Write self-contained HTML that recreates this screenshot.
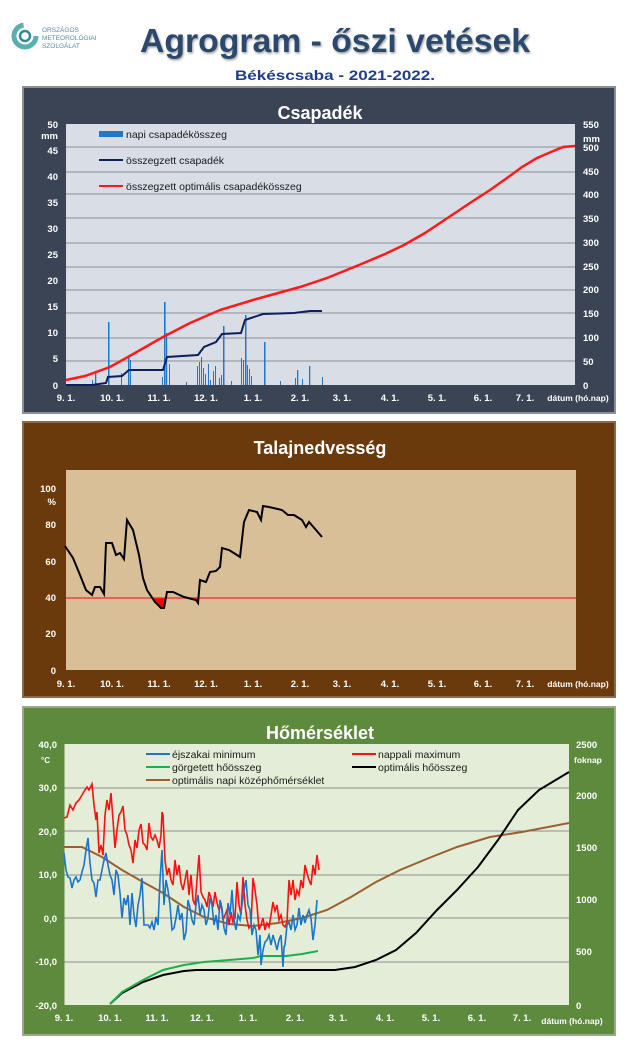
<!DOCTYPE html>
<html><head><meta charset="utf-8"><style>
html,body{margin:0;padding:0;background:#fff;width:640px;height:1057px;overflow:hidden}
svg{display:block}
text{font-family:"Liberation Sans",sans-serif}
.ax{fill:#fff;font-size:9.5px;font-weight:bold}
.lg{fill:#1a1a1a;font-size:10.5px}
.tt{fill:#fff;font-size:18px;font-weight:bold}
</style></head><body>
<svg width="640" height="1057" viewBox="0 0 640 1057" xmlns="http://www.w3.org/2000/svg">
<defs><filter id="sh"><feDropShadow dx="1" dy="1.5" stdDeviation="1" flood-color="#777" flood-opacity="0.7"/></filter></defs>
<!-- header -->
<circle cx="25" cy="36" r="11" fill="none" stroke="#5ab0b0" stroke-width="5" stroke-dasharray="50 20"/>
<circle cx="25" cy="36" r="5" fill="none" stroke="#2e8a9a" stroke-width="2.5"/>
<text x="42" y="32" font-size="6.5" fill="#5a8aa0">ORSZÁGOS</text>
<text x="42" y="40" font-size="6.5" fill="#5a8aa0">METEOROLÓGIAI</text>
<text x="42" y="48" font-size="6.5" fill="#5a8aa0">SZOLGÁLAT</text>
<text x="335" y="52" text-anchor="middle" font-size="33" font-weight="bold" fill="#2a4a6c" filter="url(#sh)" textLength="390" lengthAdjust="spacingAndGlyphs">Agrogram - őszi vetések</text>
<text x="335" y="80" text-anchor="middle" font-size="14" font-weight="bold" fill="#1f3e8a" textLength="200" lengthAdjust="spacingAndGlyphs">Békéscsaba - 2021-2022.</text>

<!-- PANEL 1 -->
<rect x="23" y="87" width="592" height="326" fill="#3b4454" stroke="#8a8f98" stroke-width="2"/>
<text x="320" y="119" text-anchor="middle" class="tt">Csapadék</text>
<rect x="66" y="124" width="509" height="261" fill="#d8dde6"/>
<g stroke="#8c8f94" stroke-width="1">
<line x1="66" x2="575" y1="147" y2="147"/><line x1="66" x2="575" y1="172" y2="172"/><line x1="66" x2="575" y1="194" y2="194"/><line x1="66" x2="575" y1="218" y2="218"/><line x1="66" x2="575" y1="243" y2="243"/><line x1="66" x2="575" y1="267" y2="267"/><line x1="66" x2="575" y1="290" y2="290"/><line x1="66" x2="575" y1="313" y2="313"/><line x1="66" x2="575" y1="338" y2="338"/><line x1="66" x2="575" y1="361" y2="361"/>
</g>
<g class="ax" text-anchor="end">
<text x="58" y="128">50</text><text x="58" y="154">45</text><text x="58" y="180">40</text><text x="58" y="206">35</text><text x="58" y="232">30</text><text x="58" y="258">25</text><text x="58" y="284">20</text><text x="58" y="310">15</text><text x="58" y="336">10</text><text x="58" y="362">5</text><text x="58" y="389">0</text>
<text x="58" y="139">mm</text>
</g>
<g class="ax">
<text x="583" y="128">550</text><text x="583" y="142">mm</text><text x="583" y="151">500</text><text x="583" y="175">450</text><text x="583" y="198">400</text><text x="583" y="222">350</text><text x="583" y="246">300</text><text x="583" y="270">250</text><text x="583" y="293">200</text><text x="583" y="317">150</text><text x="583" y="341">100</text><text x="583" y="365">50</text><text x="583" y="389">0</text>
</g>
<g class="ax" text-anchor="middle">
<text x="66" y="401">9. 1.</text><text x="112" y="401">10. 1.</text><text x="159" y="401">11. 1.</text><text x="206" y="401">12. 1.</text><text x="253" y="401">1. 1.</text><text x="300" y="401">2. 1.</text><text x="342" y="401">3. 1.</text><text x="390" y="401">4. 1.</text><text x="437" y="401">5. 1.</text><text x="483" y="401">6. 1.</text><text x="525" y="401">7. 1.</text><text x="578" y="401" font-size="8.5">dátum (hó.nap)</text>
</g>
<g fill="#1f78c8">
<rect x="108" y="322" width="1.5" height="63"/><rect x="164" y="302" width="1.6" height="83"/><rect x="166" y="333" width="1.2" height="52"/><rect x="223" y="326" width="1.5" height="59"/><rect x="245" y="315" width="1.5" height="70"/><rect x="264" y="342" width="1.5" height="43"/><rect x="309" y="366" width="1.3" height="19"/><rect x="297" y="370" width="1.3" height="15"/><rect x="128" y="356" width="1.5" height="29"/><rect x="130" y="360" width="1" height="25"/><rect x="95" y="372" width="1.3" height="13"/><rect x="92" y="380" width="1" height="5"/><rect x="121" y="373" width="1" height="12"/><rect x="169" y="364" width="1" height="21"/><rect x="162" y="377" width="1" height="8"/><rect x="197" y="366" width="1" height="19"/><rect x="199" y="362" width="1" height="23"/><rect x="201" y="357" width="1" height="28"/><rect x="203" y="368" width="1" height="17"/><rect x="205" y="374" width="1" height="11"/><rect x="208" y="364" width="1" height="21"/><rect x="210" y="380" width="1" height="5"/><rect x="213" y="371" width="1" height="14"/><rect x="215" y="366" width="1" height="19"/><rect x="219" y="378" width="1" height="7"/><rect x="221" y="375" width="1" height="10"/><rect x="241" y="358" width="1" height="27"/><rect x="243" y="360" width="1" height="25"/><rect x="247" y="365" width="1" height="20"/><rect x="249" y="369" width="1" height="16"/><rect x="251" y="376" width="1" height="9"/><rect x="280" y="381" width="1" height="4"/><rect x="295" y="378" width="1" height="7"/><rect x="302" y="379" width="1" height="6"/><rect x="322" y="377" width="1" height="8"/><rect x="186" y="382" width="1" height="3"/><rect x="231" y="381" width="1" height="4"/>
</g>
<polyline fill="none" stroke="#ff1a1a" stroke-width="2.5" points="66,380 85,376 110,367 135,353 163,337 190,323 220,310 253,300 300,287 327,278 359,265 385,254 404,245 425,233 449,217 470,203 490,190 507,178 522,167 537,158 551,152 563,147 575,146"/>
<polyline fill="none" stroke="#0d1f5c" stroke-width="2" points="66,385 92,385 106,383 108,377 122,376 129,370 163,370 167,357 198,355 204,347 216,342 222,334 241,333 245,320 251,318 263,314 294,313 310,311 322,311"/>
<rect x="99" y="131" width="24" height="6" fill="#1f78c8"/>
<text x="126" y="138" class="lg">napi csapadékösszeg</text>
<line x1="99" x2="123" y1="160" y2="160" stroke="#0d1f5c" stroke-width="2"/>
<text x="126" y="164" class="lg">összegzett csapadék</text>
<line x1="99" x2="123" y1="186" y2="186" stroke="#ff1a1a" stroke-width="2"/>
<text x="126" y="190" class="lg">összegzett optimális  csapadékösszeg</text>

<!-- PANEL 2 -->
<rect x="23" y="422" width="592" height="275" fill="#6b3a0c" stroke="#8a6a4a" stroke-width="2"/>
<text x="320" y="454" text-anchor="middle" class="tt">Talajnedvesség</text>
<rect x="66" y="470" width="510" height="200" fill="#d9bf98"/>
<g class="ax" text-anchor="end">
<text x="56" y="492">100</text><text x="56" y="505">%</text><text x="56" y="528">80</text><text x="56" y="565">60</text><text x="56" y="601">40</text><text x="56" y="637">20</text><text x="56" y="674">0</text>
</g>
<g class="ax" text-anchor="middle">
<text x="66" y="687">9. 1.</text><text x="112" y="687">10. 1.</text><text x="159" y="687">11. 1.</text><text x="206" y="687">12. 1.</text><text x="253" y="687">1. 1.</text><text x="300" y="687">2. 1.</text><text x="342" y="687">3. 1.</text><text x="390" y="687">4. 1.</text><text x="437" y="687">5. 1.</text><text x="483" y="687">6. 1.</text><text x="525" y="687">7. 1.</text><text x="578" y="687" font-size="8.5">dátum (hó.nap)</text>
</g>
<polygon fill="#ff0000" points="153,598 158,604 161,608 164,608 166,598"/>
<polygon fill="#ff0000" points="193,598 196,600 198,603 199,598"/>
<line x1="66" x2="576" y1="598" y2="598" stroke="#ee2a2a" stroke-width="1.3"/>
<polyline fill="none" stroke="#000" stroke-width="2" points="65,546 73,558 80,575 86,590 92,595 95,587 100,587 104,594 106,543 112,543 116,555 120,553 124,559 127,520 133,530 139,555 143,578 147,590 155,602 161,608 164,608 167,592 173,592 184,597 196,600 198,603 200,580 206,582 210,572 216,571 220,567 222,548 229,550 237,555 240,557 244,522 249,510 257,512 261,520 263,506 269,507 282,510 288,515 294,515 302,520 306,527 309,522 316,530 322,537"/>

<!-- PANEL 3 -->
<rect x="23" y="707" width="592" height="328" fill="#5d8a3c" stroke="#9aa890" stroke-width="2"/>
<text x="320" y="739" text-anchor="middle" class="tt">Hőmérséklet</text>
<rect x="64.5" y="744" width="504.5" height="261" fill="#e3edd7"/>
<g stroke="#8c8f94" stroke-width="1">
<line x1="64.5" x2="569" y1="788" y2="788"/><line x1="64.5" x2="569" y1="831" y2="831"/><line x1="64.5" x2="569" y1="875" y2="875"/><line x1="64.5" x2="569" y1="918" y2="918"/><line x1="64.5" x2="569" y1="962" y2="962"/>
</g>
<g class="ax" text-anchor="end">
<text x="57" y="748">40,0</text><text x="50" y="763" font-size="8">°C</text><text x="57" y="791">30,0</text><text x="57" y="835">20,0</text><text x="57" y="878">10,0</text><text x="57" y="922">0,0</text><text x="57" y="965">-10,0</text><text x="57" y="1009">-20,0</text>
</g>
<g class="ax">
<text x="576" y="748">2500</text><text x="574" y="763" font-size="8.5">foknap</text><text x="576" y="799">2000</text><text x="576" y="851">1500</text><text x="576" y="903">1000</text><text x="576" y="955">500</text><text x="576" y="1009">0</text>
</g>
<g class="ax" text-anchor="middle">
<text x="64" y="1021">9. 1.</text><text x="110" y="1021">10. 1.</text><text x="157" y="1021">11. 1.</text><text x="202" y="1021">12. 1.</text><text x="248" y="1021">1. 1.</text><text x="295" y="1021">2. 1.</text><text x="338" y="1021">3. 1.</text><text x="385" y="1021">4. 1.</text><text x="431" y="1021">5. 1.</text><text x="477" y="1021">6. 1.</text><text x="522" y="1021">7. 1.</text><text x="572" y="1024" font-size="8.5">dátum (hó.nap)</text>
</g>
<polyline fill="none" stroke="#9a6030" stroke-width="2" points="64.5,847 82,847 102,857 122,870 143,882 163,893 184,907 204,917 229,924 253,926 278,923 302,918 327,910 351,897 376,882 400,870 429,858 457,847 490,837 522,832 569,823"/>
<polyline fill="none" stroke="#000" stroke-width="2" points="110,1004 122,993 143,982 163,975 184,971 196,970 335,970 355,967 376,960 396,950 416,933 437,910 457,890 478,867 498,840 518,810 539,790 569,772"/>
<polyline fill="none" stroke="#1cb04a" stroke-width="2" points="110,1004 122,992 143,980 163,970 184,965 204,962 229,960 253,958 261,956 286,956 302,954 318,951"/>
<polyline fill="none" stroke="#ff1010" stroke-width="1.6" points="64,818 67,817 70,805 73,810 76,803 79,800 82,795 85,790 87,787 89,790 92,784 94,805 96,820 97,812 99,853 101,845 103,855 105,815 107,800 109,810 111,793 113,820 115,848 117,830 119,815 121,812 123,806 125,830 127,835 129,845 131,850 133,863 135,840 137,848 139,830 141,824 143,843 145,845 147,850 149,823 151,837 153,840 155,835 157,840 159,848 161,835 162,812 163,815 165,860 167,875 169,868 171,880 173,885 175,860 177,875 179,865 181,883 183,890 185,880 187,870 189,895 191,875 193,900 195,905 197,880 199,855 201,892 203,897 205,900 207,907 209,892 211,898 213,907 215,892 217,903 219,910 221,903 223,920 225,915 227,910 229,925 231,912 233,922 235,918 237,882 239,905 241,915 243,877 245,905 247,920 249,928 251,925 253,878 255,890 257,905 259,930 261,925 263,918 265,930 267,923 269,927 271,915 273,902 275,911 277,905 279,920 281,915 283,925 285,927 287,922 289,880 291,895 293,880 295,900 297,890 299,895 301,880 303,888 305,865 307,873 309,880 311,885 313,865 315,875 317,855 319,870"/>
<polyline fill="none" stroke="#1b76c8" stroke-width="1.6" points="64,853 66,870 68,877 70,878 72,888 74,880 76,877 78,882 80,880 82,872 84,865 86,850 88,838 90,863 92,880 94,883 96,897 98,880 100,880 102,870 104,860 106,853 108,865 110,875 112,880 114,895 116,870 118,875 120,893 122,918 124,898 126,905 128,895 130,925 132,893 134,915 136,927 138,905 140,895 142,878 144,925 146,925 148,925 150,928 152,922 154,930 156,917 158,925 160,880 162,850 164,905 166,880 168,890 170,905 172,930 174,928 176,918 178,905 180,920 182,913 184,940 186,932 188,900 190,908 192,920 194,925 196,905 198,895 200,915 202,905 204,910 206,925 208,918 210,898 212,905 214,925 216,915 218,930 220,900 222,908 224,928 226,935 228,903 230,915 232,890 234,920 236,930 238,915 240,920 242,905 244,890 246,880 248,905 250,910 252,935 254,925 256,930 258,955 260,935 261,965 263,950 265,942 267,940 269,935 271,945 273,935 275,942 277,950 279,940 281,935 283,967 284,947 285,945 287,925 289,922 291,930 293,915 295,930 297,925 299,908 301,925 303,915 305,923 307,915 309,910 311,918 313,940 315,925 317,900"/>
<line x1="146" x2="170" y1="754" y2="754" stroke="#1b76c8" stroke-width="2"/>
<text x="172" y="758" class="lg">éjszakai minimum</text>
<line x1="352" x2="376" y1="754" y2="754" stroke="#ff1010" stroke-width="2"/>
<text x="378" y="758" class="lg">nappali maximum</text>
<line x1="146" x2="170" y1="767" y2="767" stroke="#1cb04a" stroke-width="2"/>
<text x="172" y="771" class="lg">görgetett hőösszeg</text>
<line x1="352" x2="376" y1="767" y2="767" stroke="#000" stroke-width="2"/>
<text x="378" y="771" class="lg">optimális hőösszeg</text>
<line x1="146" x2="170" y1="780" y2="780" stroke="#9a6030" stroke-width="2"/>
<text x="172" y="784" class="lg">optimális napi középhőmérséklet</text>
</svg>
</body></html>
